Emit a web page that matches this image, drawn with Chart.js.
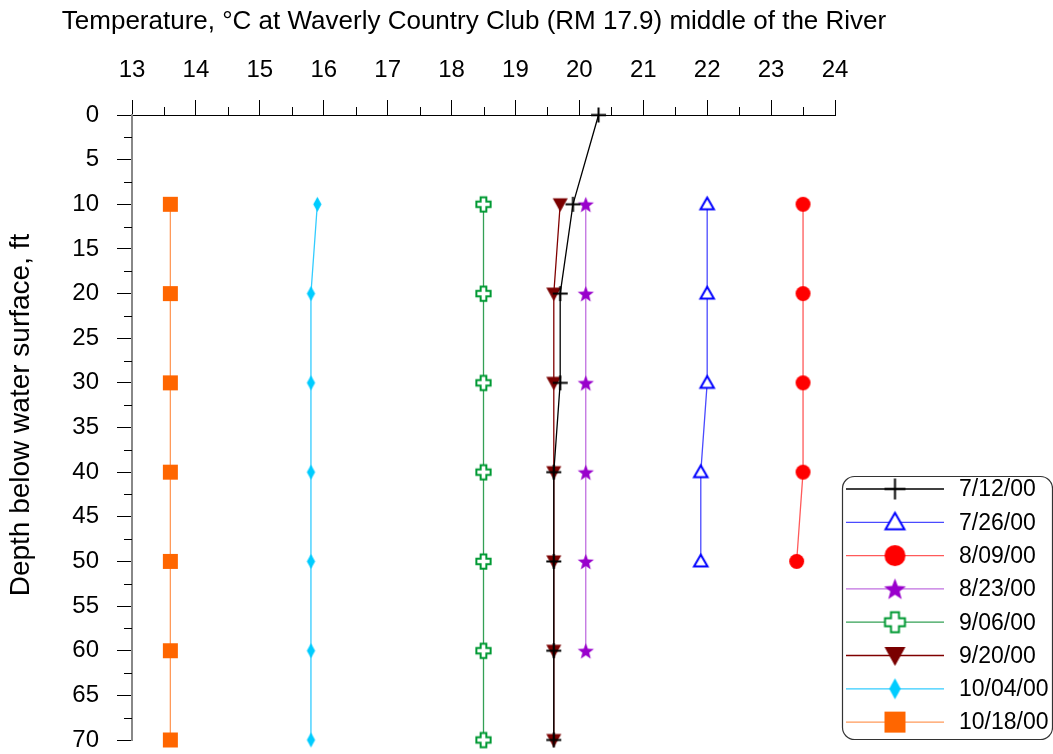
<!DOCTYPE html>
<html>
<head>
<meta charset="utf-8">
<script src="https://cdn.jsdelivr.net/npm/chart.js@4"></script>
<style>
  html, body { margin: 0; padding: 0; background: #fff; }
  #wrap { width: 1053px; height: 754px; }
</style>
</head>
<body>
<div id="wrap"><canvas id="grafico"></canvas></div>
<script>
// depths (ft) and temperatures (C) per sampling date
var depths = [0, 10, 20, 30, 40, 50, 60, 70];
var dates = ['7/12/00', '7/26/00', '8/09/00', '8/23/00', '9/06/00', '9/20/00', '10/04/00', '10/18/00'];
var t0712 = [20.3, 19.9, 19.7, 19.7, 19.6, 19.6, 19.6, 19.6];
var t0726 = [null, 22.0, 22.0, 22.0, 21.9, 21.9, null, null];
var t0809 = [null, 23.5, 23.5, 23.5, 23.5, 23.4, null, null];
var t0823 = [null, 20.1, 20.1, 20.1, 20.1, 20.1, 20.1, null];
var t0906 = [null, 18.5, 18.5, 18.5, 18.5, 18.5, 18.5, 18.5];
var t0920 = [null, 19.7, 19.6, 19.6, 19.6, 19.6, 19.6, 19.6];
var t1004 = [null, 15.9, 15.8, 15.8, 15.8, 15.8, 15.8, 15.8];
var t1018 = [null, 13.6, 13.6, 13.6, 13.6, 13.6, 13.6, 13.6];
var xTicks = [13, 24, 1];   // min, max, step
var yTicks = [0, 70, 5];
var titulo = 'Temperature, \u00b0C at Waverly Country Club (RM 17.9) middle of the River';
var tituloY = 'Depth below water surface, ft';

var FONT = "'Liberation Sans', Arial, sans-serif";

// marker images
function marker(kind, s, color) {
    var c = document.createElement('canvas');
    var w = s + 4;
    c.width = w; c.height = w;
    var g = c.getContext('2d');
    var m = w / 2, r = s / 2;
    g.fillStyle = color; g.strokeStyle = color;
    g.lineWidth = 2;
    g.beginPath();
    if (kind == 'plus') {
        g.moveTo(m - r, m); g.lineTo(m + r, m);
        g.moveTo(m, m - r); g.lineTo(m, m + r);
        g.stroke();
    } else if (kind == 'triOpen') {
        var h = r * 0.9;
        g.moveTo(m, m - h); g.lineTo(m + h, m + h * 0.75); g.lineTo(m - h, m + h * 0.75); g.closePath();
        g.fillStyle = '#fff'; g.fill(); g.stroke();
    } else if (kind == 'circle') {
        g.arc(m, m, r, 0, Math.PI * 2); g.fill();
    } else if (kind == 'star') {
        for (var i = 0; i < 10; i++) {
            var rr = i % 2 ? r * 0.42 : r;
            var a = -Math.PI / 2 + i * Math.PI / 5;
            g.lineTo(m + rr * Math.cos(a), m + 1 + rr * Math.sin(a));
        }
        g.closePath(); g.fill();
    } else if (kind == 'crossOpen') {
        var a2 = r * 0.38, b = r * 0.95;
        g.moveTo(m - a2, m - b); g.lineTo(m + a2, m - b); g.lineTo(m + a2, m - a2); g.lineTo(m + b, m - a2);
        g.lineTo(m + b, m + a2); g.lineTo(m + a2, m + a2); g.lineTo(m + a2, m + b); g.lineTo(m - a2, m + b);
        g.lineTo(m - a2, m + a2); g.lineTo(m - b, m + a2); g.lineTo(m - b, m - a2); g.lineTo(m - a2, m - a2);
        g.closePath(); g.fillStyle = '#fff'; g.fill(); g.stroke();
    } else if (kind == 'triDown') {
        g.moveTo(m - r, m - r * 0.8); g.lineTo(m + r, m - r * 0.8); g.lineTo(m, m + r); g.closePath(); g.fill();
    } else if (kind == 'diamond') {
        g.moveTo(m, m - r); g.lineTo(m + r * 0.55, m); g.lineTo(m, m + r); g.lineTo(m - r * 0.55, m); g.closePath(); g.fill();
    } else if (kind == 'square') {
        g.rect(m - r, m - r, s, s); g.fill();
    }
    return c;
}

var series = [t0712, t0726, t0809, t0823, t0906, t0920, t1004, t1018];
var kinds = ['plus', 'triOpen', 'circle', 'star', 'crossOpen', 'triDown', 'diamond', 'square'];
var markColors = ['#000000', '#0000ff', '#ff0000', '#9900cc', '#009933', '#7a0000', '#00ccff', '#ff6600'];
var lineColors = ['#000000', '#4a4aff', '#ff5a5a', '#c070e0', '#33a055', '#800000', '#33ccff', '#ff9a5a'];
var markSizes = [15, 15, 15, 17, 15, 15, 15, 15];

var datasets = series.map(function (arr, k) {
    var pts = [];
    depths.forEach(function (d, i) { if (arr[i] !== null) pts.push({ x: arr[i], y: d }); });
    return {
        label: dates[k],
        data: pts,
        showLine: true,
        borderColor: lineColors[k],
        borderWidth: 1.3,
        pointStyle: marker(kinds[k], markSizes[k], markColors[k]),
        legendMarker: marker(kinds[k], markSizes[k] + 6, markColors[k]),
        clip: false
    };
});

// titles, drawn at their own size and place (built-in title squeezes text into its box)
var titles = {
    id: 'titles',
    afterDraw: function (chart) {
        var ctx = chart.ctx;
        ctx.save();
        ctx.fillStyle = '#000';
        ctx.textAlign = 'center';
        ctx.textBaseline = 'middle';
        ctx.font = '26px ' + FONT;
        ctx.fillText(titulo, 474, 22);
        ctx.translate(21, 415);
        ctx.rotate(-Math.PI / 2);
        ctx.font = '28px ' + FONT;
        ctx.fillText(tituloY, 0, 0);
        ctx.restore();
    }
};

// short ticks between the labelled ones
var minorTicks = {
    id: 'minorTicks',
    afterDraw: function (chart) {
        var ctx = chart.ctx, xs = chart.scales.x, ys = chart.scales.y, v;
        ctx.save();
        ctx.strokeStyle = '#000'; ctx.lineWidth = 1;
        ctx.beginPath();
        for (v = xTicks[0] + xTicks[2] / 2; v < xTicks[1]; v += xTicks[2]) {
            var px = Math.round(xs.getPixelForValue(v)) + 0.5;
            ctx.moveTo(px, xs.bottom); ctx.lineTo(px, xs.bottom - 8);
        }
        for (v = yTicks[0] + yTicks[2] / 2; v < yTicks[1]; v += yTicks[2]) {
            var py = Math.round(ys.getPixelForValue(v)) + 0.5;
            ctx.moveTo(ys.right, py); ctx.lineTo(ys.right - 8, py);
        }
        ctx.stroke();
        ctx.restore();
    }
};

// boxed legend: line with marker, then the date
var boxLegend = {
    id: 'boxLegend',
    afterDraw: function (chart) {
        var ctx = chart.ctx, area = chart.chartArea;
        var left = area.right + 7, top = 476, w = 210, h = 263, rad = 12, step = 33.3;
        ctx.save();
        ctx.beginPath();
        ctx.roundRect(left + 0.5, top + 0.5, w, h, rad);
        ctx.fillStyle = '#fff'; ctx.fill();
        ctx.strokeStyle = '#333'; ctx.lineWidth = 1.2; ctx.stroke();
        ctx.font = '23px ' + FONT;
        ctx.textBaseline = 'middle';
        chart.data.datasets.forEach(function (ds, i) {
            var y = top + 13 + i * step;
            ctx.beginPath();
            ctx.strokeStyle = ds.borderColor; ctx.lineWidth = 1.3;
            ctx.moveTo(left + 4, y); ctx.lineTo(left + 102, y); ctx.stroke();
            var img = ds.legendMarker;
            ctx.drawImage(img, left + 53 - img.width / 2, y - img.height / 2);
            ctx.fillStyle = '#000';
            ctx.fillText(ds.label, left + 117, y + 1);
        });
        ctx.restore();
    }
};

Chart.defaults.color = '#000';
Chart.defaults.font.family = FONT;

var ctx = document.getElementById('grafico').getContext('2d');
var graficoTemp = new Chart(ctx, {
    type: 'scatter',
    data: { datasets: datasets },
    options: {
        responsive: true,
        maintainAspectRatio: false,
        animation: false,
        layout: { padding: { left: 0, right: 218, top: 37, bottom: 14 } },
        plugins: {
            legend: { display: false },
            tooltip: { enabled: false },
            title: { display: false }
        },
        scales: {
            x: {
                type: 'linear',
                position: 'top',
                min: xTicks[0],
                max: xTicks[1],
                ticks: { stepSize: xTicks[2], font: { size: 24 }, padding: 15, maxRotation: 0 },
                grid: { drawOnChartArea: false, drawTicks: true, tickLength: 15, color: '#000' },
                border: { display: true, color: '#000', width: 1 },
                afterFit: function (scale) { scale.height = 78; }
            },
            y: {
                type: 'linear',
                reverse: true,
                min: yTicks[0],
                max: yTicks[1],
                ticks: { stepSize: yTicks[2], font: { size: 24 }, padding: 18 },
                grid: { drawOnChartArea: false, drawTicks: true, tickLength: 15, color: '#000' },
                border: { display: true, color: '#888', width: 2 },
                title: { display: false },
                afterFit: function (scale) {
                    scale.width = 132;
                    scale.paddingTop = 0;
                    scale.paddingBottom = 0;
                }
            }
        }
    },
    plugins: [titles, minorTicks, boxLegend]
});
</script>
</body>
</html>
